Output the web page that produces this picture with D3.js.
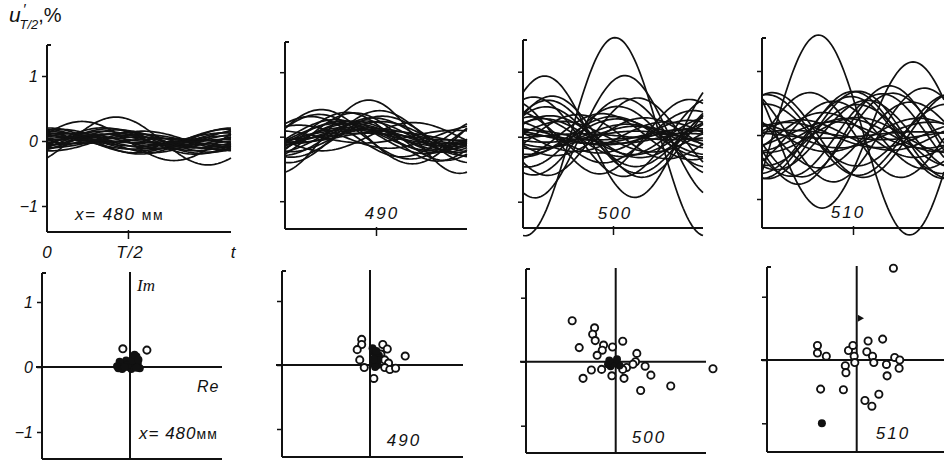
<!DOCTYPE html>
<html>
<head>
<meta charset="utf-8">
<script src="https://cdn.jsdelivr.net/npm/d3@7"></script>
<style>
body { margin: 0; background: #fff; }
svg text { font-family: "Liberation Sans", "DejaVu Sans", sans-serif; font-style: italic; fill: #111; }
</style>
</head>
<body>
<svg id="canvas"></svg>
<script>
// stations along x, mm
let stations = ['480', '490', '500', '510']

// complex amplitudes [Re, Im] of u'_{T/2}, %
let open480 = [[-0.11, 0.28], [0.26, 0.26]]
let solid480 = [[-0.18, -0.02], [-0.14, 0.02], [-0.1, 0.06], [-0.06, 0.1], [-0.02, 0.0], [0.02, -0.03],
    [0.06, 0.0], [0.08, 0.08], [0.1, 0.16], [0.05, 0.14], [0.0, 0.06], [0.12, 0.05], [0.15, -0.02], [-0.16, 0.08],
    [-0.04, 0.03], [0.1, -0.01], [-0.12, -0.03], [0.03, 0.1], [0.07, 0.19], [-0.08, 0.0], [0.13, 0.11], [-0.2, 0.01]]

let open490 = [[-0.13, 0.40], [-0.13, 0.32], [-0.2, 0.24], [-0.16, 0.08], [-0.09, -0.04], [0.06, -0.21],
    [0.2, 0.32], [0.27, 0.25], [0.17, 0.17], [0.23, 0.08], [0.29, 0.03], [0.23, -0.04], [0.31, -0.07],
    [0.4, -0.05], [0.55, 0.14]]
let solid490 = [[0.06, 0.2], [0.08, 0.12], [0.1, 0.05], [0.12, 0.0], [0.05, 0.02], [0.14, 0.15], [0.08, -0.03],
    [0.04, 0.26], [0.1, 0.22], [0.13, 0.08], [0.06, 0.09]]

let open500 = [[-0.68, 0.64], [-0.33, 0.53], [-0.36, 0.43], [-0.32, 0.33], [-0.19, 0.26], [-0.21, 0.18],
    [-0.05, 0.23], [0.11, 0.32], [-0.57, 0.22], [-0.29, 0.1], [0.31, 0.0], [0.46, -0.07], [0.17, -0.09],
    [0.11, -0.12], [-0.22, -0.12], [-0.38, -0.13], [-0.06, -0.22], [-0.51, -0.26], [0.13, -0.26],
    [0.55, -0.21], [0.39, -0.45], [0.86, -0.38], [1.52, -0.11], [0.27, -0.04], [0.33, 0.13]]
let solid500 = [[-0.08, -0.07], [-0.12, -0.04], [0.06, -0.06], [-0.04, -0.03], [0.02, 0.04], [-0.1, 0.02]]

let open510 = [[0.58, 1.45], [-0.62, 0.23], [-0.62, 0.11], [-0.48, 0.06], [-0.13, 0.15], [-0.06, 0.23],
    [-0.04, 0.06], [-0.18, -0.09], [-0.17, -0.2], [-0.57, -0.46], [-0.21, -0.47], [0.13, -0.64],
    [0.24, -0.73], [0.35, -0.54], [0.18, 0.3], [0.41, 0.33], [0.16, 0.13], [0.25, 0.06], [0.27, -0.04],
    [0.47, -0.07], [0.48, -0.25], [0.6, 0.04], [0.68, 0.0], [0.67, -0.13], [-0.03, -0.04]]
let solid510 = [[-0.55, -1.0]]
let tri510 = [[0.05, 0.66]]

let openPts = [open480, open490, open500, open510]
let solidPts = [solid480, solid490, solid500, solid510]
let triPts = [[], [], [], tri510]

let yTicks = [-1, 0, 1]
let yTickLabels = ['\u22121', '0', '1']
// position of the T/2 tick (fraction of the drawn period)
let halfTick = [0.44, 0.5, 0.5, 0.5]

let w = 944
let h = 461

let canvas = d3.select('#canvas')
canvas.attr('width', w)
canvas.attr('height', h)

let topFrames = [
    {x0: 47, x1: 231, top: 45, bottom: 232, zero: 141, unit: 65},
    {x0: 285, x1: 467, top: 42, bottom: 229, zero: 136.7, unit: 64.5},
    {x0: 523, x1: 703, top: 40, bottom: 228, zero: 136.7, unit: 65},
    {x0: 762, x1: 944, top: 38, bottom: 228, zero: 135, unit: 64}
]
let botFrames = [
    {left: 42, right: 222, top: 273, bottom: 459, ox: 130, oy: 367, unit: 65},
    {left: 282, right: 463, top: 271, bottom: 457, ox: 370, oy: 365, unit: 64},
    {left: 526, right: 706, top: 269, bottom: 453, ox: 615.7, oy: 361.7, unit: 64},
    {left: 767, right: 944, top: 267, bottom: 452, ox: 856.7, oy: 360, unit: 63.3}
]
let topLabelPos = [null, [382, 219], [615, 219], [848, 218]]
let botLabelPos = [null, [404, 446], [649, 443], [893, 439]]

let frameLine = (g, x1, y1, x2, y2, sw) => {
    g.append('line')
        .attr('x1', x1).attr('y1', y1).attr('x2', x2).attr('y2', y2)
        .attr('stroke', '#111').attr('stroke-width', sw || 2)
}

let styleAxis = (g) => {
    g.select('.domain').remove()
    g.selectAll('.tick line').attr('stroke', '#111').attr('stroke-width', 1.5)
    g.selectAll('.tick text').style('font-size', '16px').style('font-family', null).attr('fill', '#111')
}

let stationLabel = (g, x, y, txt) => {
    g.append('text').attr('x', x).attr('y', y)
        .attr('text-anchor', 'middle')
        .style('font-size', '17px')
        .style('letter-spacing', '2px')
        .text(txt)
}

// u(t) over one period for complex amplitude [re, im]
let wave = (p, t) => -p[0] * Math.cos(2 * Math.PI * t) + p[1] * Math.sin(2 * Math.PI * t)

let drawTop = (i) => {
    let f = topFrames[i]
    let g = canvas.append('g')
    let xScale = d3.scaleLinear().domain([0, 1]).range([f.x0, f.x1])
    let yScale = d3.scaleLinear().domain([-1, 1]).range([f.zero + f.unit, f.zero - f.unit])

    let samples = d3.range(0, 1.0001, 0.01)
    let pts = openPts[i].concat(solidPts[i], triPts[i])
    g.selectAll('path.wave')
        .data(pts)
        .enter()
        .append('path')
        .attr('class', 'wave')
        .attr('fill', 'none')
        .attr('stroke', '#111')
        .attr('stroke-width', 1.7)
        .attr('d', (p) => d3.line()
            .x((t) => xScale(t))
            .y((t) => yScale(wave(p, t)))(samples))

    frameLine(g, f.x0, f.top, f.x0, f.bottom)
    frameLine(g, f.x0, f.top, f.x0 + 4, f.top)
    frameLine(g, f.x0, f.bottom, f.x1, f.bottom)

    let yAxis = d3.axisLeft(yScale)
        .tickValues(yTicks)
        .tickSize(5)
        .tickPadding(4)
        .tickFormat((d, k) => i == 0 ? yTickLabels[k] : '')
    g.append('g')
        .attr('transform', 'translate(' + f.x0 + ',0)')
        .call(yAxis)
        .call(styleAxis)

    let xAxis = d3.axisBottom(xScale)
        .tickValues([halfTick[i]])
        .tickSize(9)
        .tickFormat('')
    g.append('g')
        .attr('transform', 'translate(0,' + (f.bottom - 2) + ')')
        .call(xAxis)
        .call(styleAxis)

    if (i == 0) {
        g.append('text').attr('x', xScale(0)).attr('y', 258).attr('text-anchor', 'middle')
            .style('font-size', '17px').text('0')
        g.append('text').attr('x', xScale(halfTick[0]) + 2).attr('y', 258).attr('text-anchor', 'middle')
            .style('font-size', '17px').style('letter-spacing', '1px').text('T/2')
        g.append('text').attr('x', xScale(1) + 2).attr('y', 258).attr('text-anchor', 'middle')
            .style('font-size', '17px').text('t')
        let lab = g.append('text').attr('x', 75).attr('y', 220).style('font-size', '17px').style('letter-spacing', '1.5px')
        lab.append('tspan').text('x= 480 ')
        lab.append('tspan').style('font-style', 'normal').style('font-size', '14px').text('мм')

        let yl = g.append('text').attr('x', 9).attr('y', 22).style('font-size', '21px')
        yl.append('tspan').text('u')
        yl.append('tspan').attr('dx', 2).attr('dy', -8).style('font-size', '15px').text('\u2032')
        yl.append('tspan').attr('dx', -6).attr('dy', 15).style('font-size', '13px').text('T/2')
        yl.append('tspan').attr('dy', -7).style('font-style', 'normal').style('font-size', '20px').text(',%')
    } else {
        stationLabel(g, topLabelPos[i][0], topLabelPos[i][1], stations[i])
    }
}

let drawBottom = (i) => {
    let f = botFrames[i]
    let g = canvas.append('g')
    let xScale = d3.scaleLinear().domain([-1, 1]).range([f.ox - f.unit, f.ox + f.unit])
    let yScale = d3.scaleLinear().domain([-1, 1]).range([f.oy + f.unit, f.oy - f.unit])

    frameLine(g, f.left, f.top, f.left, f.bottom)
    frameLine(g, f.left, f.top, f.left + 4, f.top)
    frameLine(g, f.left, f.bottom, f.right, f.bottom)
    frameLine(g, xScale(0), f.top - 1, xScale(0), f.bottom)
    frameLine(g, f.left - 6, yScale(0), f.right, yScale(0))

    let yAxis = d3.axisLeft(yScale)
        .tickValues(yTicks)
        .tickSize(5)
        .tickPadding(4)
        .tickFormat((d, k) => i == 0 ? yTickLabels[k] : '')
    g.append('g')
        .attr('transform', 'translate(' + f.left + ',0)')
        .call(yAxis)
        .call(styleAxis)

    g.selectAll('circle.open')
        .data(openPts[i])
        .enter()
        .append('circle')
        .attr('class', 'open')
        .attr('cx', (p) => xScale(p[0]))
        .attr('cy', (p) => yScale(p[1]))
        .attr('r', 3.6)
        .attr('fill', '#fff')
        .attr('stroke', '#111')
        .attr('stroke-width', 1.9)

    g.selectAll('circle.solid')
        .data(solidPts[i])
        .enter()
        .append('circle')
        .attr('class', 'solid')
        .attr('cx', (p) => xScale(p[0]))
        .attr('cy', (p) => yScale(p[1]))
        .attr('r', 4)
        .attr('fill', '#111')

    g.selectAll('path.tri')
        .data(triPts[i])
        .enter()
        .append('path')
        .attr('class', 'tri')
        .attr('d', d3.symbol(d3.symbolTriangle, 22))
        .attr('transform', (p) => 'translate(' + xScale(p[0]) + ',' + yScale(p[1]) + ') rotate(90)')
        .attr('fill', '#111')

    if (i == 0) {
        g.append('text').attr('x', xScale(0) + 7).attr('y', 291).style('font-size', '17px')
            .style('font-family', '"Liberation Serif", serif').text('Im')
        g.append('text').attr('x', 197).attr('y', 392).style('font-size', '16px').style('letter-spacing', '1px').text('Re')
        let lab = g.append('text').attr('x', 139).attr('y', 439).style('font-size', '17px').style('letter-spacing', '1px')
        lab.append('tspan').text('x= 480')
        lab.append('tspan').style('font-style', 'normal').style('font-size', '14px').text('мм')
    } else {
        stationLabel(g, botLabelPos[i][0], botLabelPos[i][1], stations[i])
    }
}

stations.forEach((s, i) => {
    drawTop(i)
    drawBottom(i)
})
</script>
</body>
</html>
